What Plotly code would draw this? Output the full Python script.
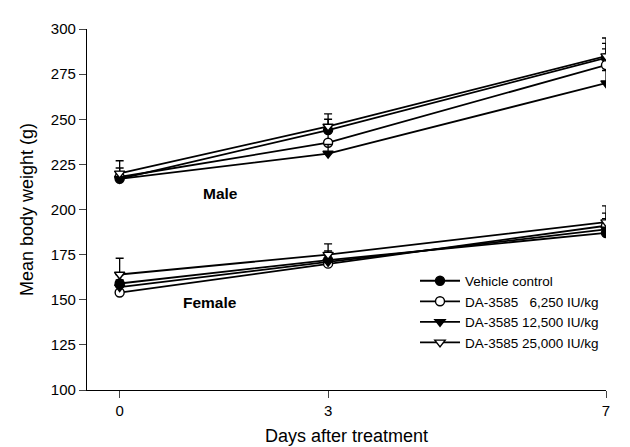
import plotly.graph_objects as go

days = [0, 3, 7]
series_names = ["Vehicle control", "DA-3585\u00a0\u00a0\u00a06,250 IU/kg",
                "DA-3585 12,500 IU/kg", "DA-3585 25,000 IU/kg"]
symbols = ["circle", "circle", "triangle-down", "triangle-down"]
fills = ["black", "white", "black", "white"]

male_vehicle = [217, 244, 284]
male_6250 = [218, 237, 280]
male_12500 = [217, 231, 270]
male_25000 = [220, 246, 285]
male_err = [[4, 6, 8], [5, 7, 9], [4, 5, 7], [7, 7, 10]]

female_vehicle = [159, 172, 187]
female_6250 = [154, 170, 191]
female_12500 = [157, 171, 189]
female_25000 = [164, 175, 193]
female_err = [[5, 5, 6], [4, 5, 7], [4, 5, 6], [9, 6, 9]]

male = [male_vehicle, male_6250, male_12500, male_25000]
female = [female_vehicle, female_6250, female_12500, female_25000]

fig = go.Figure()
for i in range(4):
    for grp, vals, err in (("m", male[i], male_err[i]), ("f", female[i], female_err[i])):
        fig.add_trace(go.Scatter(
            x=days, y=vals, mode="lines+markers",
            name=series_names[i], legendgroup=str(i),
            showlegend=(grp == "f"),
            line=dict(color="black", width=1.8),
            marker=dict(symbol=symbols[i], size=9, color=fills[i],
                        line=dict(color="black", width=1.4)),
            error_y=dict(type="data", symmetric=False, array=err, arrayminus=[0, 0, 0],
                         color="black", thickness=1.3, width=4),
        ))

fig.add_annotation(x=1.45, y=208.7, text="<b>Male</b>", showarrow=False,
                   font=dict(size=15.5, color="black"))
fig.add_annotation(x=1.30, y=148.6, text="<b>Female</b>", showarrow=False,
                   font=dict(size=15.5, color="black"))

fig.update_layout(
    width=630, height=447,
    margin=dict(l=79, r=32, t=16, b=65),
    paper_bgcolor="white", plot_bgcolor="white",
    font=dict(family="Liberation Sans, Arial, sans-serif", size=15, color="black"),
    legend=dict(x=0.632, y=0.345, xanchor="left", yanchor="top",
                bgcolor="rgba(0,0,0,0)", font=dict(size=13.5), itemwidth=40,
                tracegroupgap=0),
    xaxis=dict(range=[-0.47, 7.0], tickvals=days, ticks="outside", ticklen=7,
               showline=True, linecolor="black", linewidth=1.3, showgrid=False,
               zeroline=False, title=dict(text="Days after treatment", standoff=11)),
    yaxis=dict(range=[100, 300], tickvals=list(range(100, 301, 25)), ticks="outside",
               ticklen=7, showline=True, linecolor="black", linewidth=1.3,
               showgrid=False, zeroline=False,
               title=dict(text="Mean body weight (g)", standoff=12)),
)

fig.write_html("out.html")
